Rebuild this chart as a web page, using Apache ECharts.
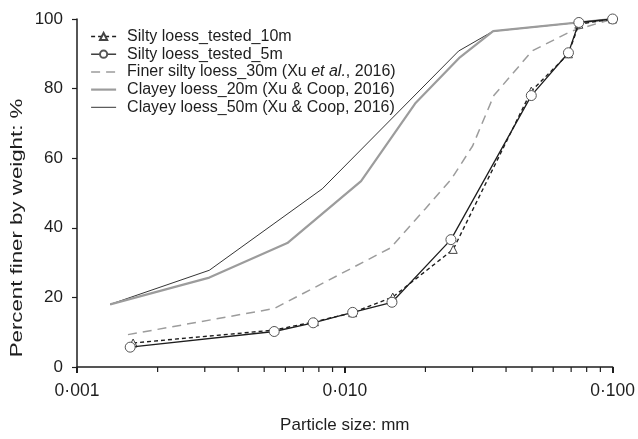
<!DOCTYPE html>
<html>
<head>
<meta charset="utf-8">
<script src="https://cdn.jsdelivr.net/npm/echarts@6/dist/echarts.min.js"></script>
<style>
  html, body { margin: 0; padding: 0; background: #fff; }
  #chart { width: 638px; height: 439px; }
</style>
</head>
<body>
<div id="chart"></div>
<script>
// Particle size (mm) and percent finer by weight for each grading curve
const silty10Size = [0.00162, 0.00545, 0.0077, 0.0107, 0.0151, 0.0254, 0.0497, 0.0684, 0.0748, 0.1];
const silty10Pct  = [6.9, 10.6, 13.0, 15.6, 20.1, 33.8, 79.3, 90.0, 98.5, 100];

const silty5Size = [0.00158, 0.00545, 0.00762, 0.0107, 0.0150, 0.0249, 0.0497, 0.0684, 0.0748, 0.1];
const silty5Pct  = [5.7, 10.2, 12.7, 15.7, 18.6, 36.6, 78.0, 90.3, 99.0, 100];

const finerSize = [0.00155, 0.00545, 0.0148, 0.02, 0.025, 0.03, 0.036, 0.05, 0.07, 0.1];
const finerPct  = [9.3, 16.8, 34.2, 45.5, 54.0, 63.5, 78.0, 90.8, 96.5, 100];

const clayey20Size = [0.00133, 0.00312, 0.0061, 0.0115, 0.0183, 0.0269, 0.0358, 0.1];
const clayey20Pct  = [18.0, 25.7, 35.6, 53.4, 75.7, 89.0, 96.5, 100];

const clayey50Size = [0.00133, 0.00312, 0.00824, 0.0266, 0.0358, 0.1];
const clayey50Pct  = [18.0, 27.8, 51.2, 90.8, 96.5, 100];

// Axis ticks
const xTickValues = [0.001, 0.01, 0.1];
const xTickLabels = ['0·001', '0·010', '0·100'];
const xMinorTicks = [0.002, 0.003, 0.004, 0.005, 0.006, 0.007, 0.008, 0.009,
                     0.02, 0.03, 0.04, 0.05, 0.06, 0.07, 0.08, 0.09];
const yTickLabels = [0, 20, 40, 60, 80, 100];

const seriesNames = [
  'Silty loess_tested_10m',
  'Silty loess_tested_5m',
  'Finer silty loess_30m (Xu et al., 2016)',
  'Clayey loess_20m (Xu & Coop, 2016)',
  'Clayey loess_50m (Xu & Coop, 2016)'
];
const yAxisTitle = 'Percent finer by weight: %';

const pair = (xs, ys) => xs.map((x, i) => [x, ys[i]]);
const FONT = '"Liberation Sans", Arial, Helvetica, sans-serif';
const INK = '#1e1e1e';
const GREY = '#9c9c9c';
const HIDDEN_MARK = { color: 'rgba(0,0,0,0)', borderWidth: 0, borderColor: 'rgba(0,0,0,0)' };

// Line styles shared by the plotted curves and their legend keys
const styleSilty10 = { color: INK, width: 1.4, type: [4, 3] };
const styleSilty5  = { color: INK, width: 1.3 };
const styleFiner   = { color: GREY, width: 1.5, type: [9, 6] };
const styleClay20  = { color: GREY, width: 2.2 };
const styleClay50  = { color: INK, width: 0.9 };

const chart = echarts.init(document.getElementById('chart'), null, { renderer: 'canvas' });

chart.setOption({
  backgroundColor: '#ffffff',
  animation: false,
  textStyle: { fontFamily: FONT },
  grid: { left: 77, right: 23, top: 19, bottom: 66, containLabel: false },
  legend: {
    data: [
      { name: seriesNames[0], lineStyle: styleSilty10 },
      { name: seriesNames[1], lineStyle: styleSilty5 },
      { name: seriesNames[2], itemStyle: HIDDEN_MARK, lineStyle: styleFiner },
      { name: seriesNames[3], itemStyle: HIDDEN_MARK, lineStyle: styleClay20 },
      { name: seriesNames[4], itemStyle: HIDDEN_MARK, lineStyle: styleClay50 }
    ],
    orient: 'vertical',
    left: 90,
    top: 28,
    padding: 0,
    itemWidth: 25,
    itemHeight: 9,
    itemGap: 0.7,
    selectedMode: false,
    textStyle: {
      fontFamily: FONT,
      fontSize: 16,
      color: INK,
      lineHeight: 17,
      padding: [0, 0, 0, 6],
      rich: {
        n: { fontFamily: FONT, fontSize: 16, color: INK },
        i: { fontFamily: FONT, fontSize: 16, color: INK, fontStyle: 'italic' }
      }
    },
    formatter: function (name) {
      if (name === seriesNames[2]) {
        return '{n|Finer silty loess_30m (Xu }{i|et al.}{n|, 2016)}';
      }
      return name;
    }
  },
  xAxis: {
    type: 'log',
    logBase: 10,
    min: xTickValues[0],
    max: xTickValues[xTickValues.length - 1],
    name: 'Particle size: mm',
    nameLocation: 'middle',
    nameGap: 50,
    nameTextStyle: { fontFamily: FONT, fontSize: 17, color: INK },
    axisLine: { show: true, onZero: false, lineStyle: { color: INK, width: 1.5 } },
    axisTick: { show: true, length: 6, lineStyle: { color: INK, width: 2 } },
    axisLabel: {
      fontFamily: FONT,
      fontSize: 17.5,
      color: INK,
      margin: 15,
      formatter: function (v) {
        for (let i = 0; i < xTickValues.length; i++) {
          if (Math.abs(Math.log10(v) - Math.log10(xTickValues[i])) < 1e-6) return xTickLabels[i];
        }
        return '';
      }
    },
    splitLine: { show: false }
  },
  yAxis: {
    type: 'value',
    min: yTickLabels[0],
    max: yTickLabels[yTickLabels.length - 1],
    interval: 20,
    axisLine: { show: true, onZero: false, lineStyle: { color: INK, width: 1.5 } },
    axisTick: { show: true, length: 5, lineStyle: { color: INK, width: 1.2 } },
    axisLabel: { fontFamily: FONT, fontSize: 17, color: INK, margin: 14 },
    splitLine: { show: false }
  },
  graphic: [
    {
      // vertical axis title, set as a rotated, slightly widened text line
      type: 'text',
      x: 17,
      y: 228,
      rotation: Math.PI / 2,
      scaleX: 1.31,
      style: {
        text: yAxisTitle,
        fontFamily: FONT,
        fontSize: 17,
        fill: INK,
        align: 'center',
        verticalAlign: 'middle'
      }
    }
  ],
  series: [
    {
      name: seriesNames[4],
      type: 'line',
      data: pair(clayey50Size, clayey50Pct),
      symbol: 'none',
      lineStyle: styleClay50,
      itemStyle: { color: INK },
      z: 2
    },
    {
      name: seriesNames[3],
      type: 'line',
      data: pair(clayey20Size, clayey20Pct),
      symbol: 'none',
      lineStyle: styleClay20,
      itemStyle: { color: GREY },
      z: 2
    },
    {
      name: seriesNames[2],
      type: 'line',
      data: pair(finerSize, finerPct),
      symbol: 'none',
      lineStyle: styleFiner,
      itemStyle: { color: GREY },
      z: 3
    },
    {
      name: seriesNames[0],
      type: 'line',
      data: pair(silty10Size, silty10Pct),
      symbol: 'triangle',
      symbolSize: 8,
      showAllSymbol: true,
      lineStyle: styleSilty10,
      itemStyle: { color: '#ffffff', borderColor: '#444', borderWidth: 1 },
      z: 4
    },
    {
      name: seriesNames[1],
      type: 'line',
      data: pair(silty5Size, silty5Pct),
      symbol: 'circle',
      symbolSize: 10,
      showAllSymbol: true,
      lineStyle: styleSilty5,
      itemStyle: { color: '#ffffff', borderColor: '#555', borderWidth: 1 },
      z: 5
    },
    {
      // minor ticks along the logarithmic size axis
      type: 'custom',
      data: xMinorTicks.map(v => [v, 0]),
      silent: true,
      clip: false,
      z: 6,
      renderItem: function (params, api) {
        const p = api.coord([api.value(0), api.value(1)]);
        return {
          type: 'line',
          shape: { x1: p[0], y1: p[1], x2: p[0], y2: p[1] + 5 },
          style: { stroke: INK, lineWidth: 1.2 }
        };
      }
    }
  ]
});
</script>
</body>
</html>
